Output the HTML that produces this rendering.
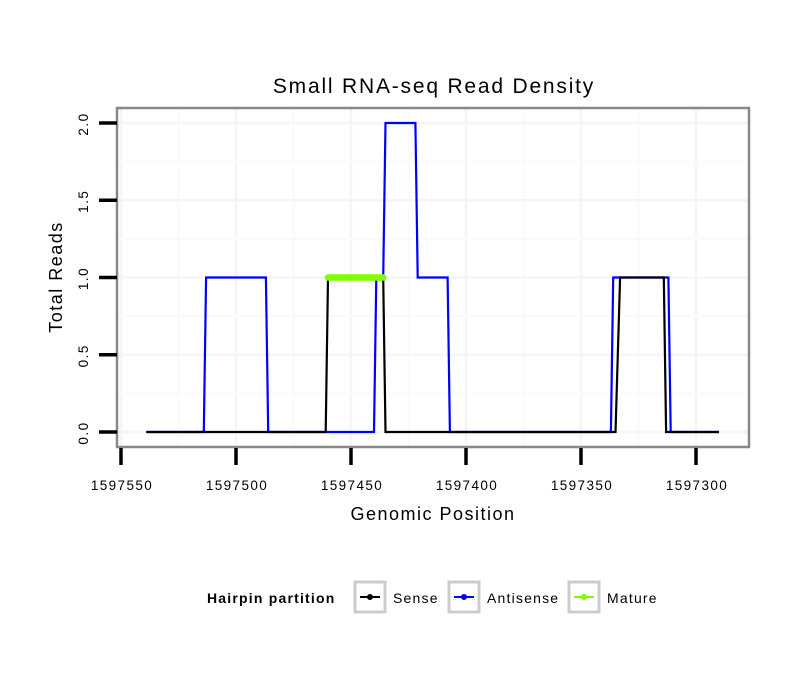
<!DOCTYPE html>
<html><head><meta charset="utf-8"><style>
body{margin:0;background:#fff;}
svg text{font-family:"Liberation Sans",sans-serif;}
</style></head><body>
<svg width="810" height="690" xmlns="http://www.w3.org/2000/svg">
<rect width="810" height="690" fill="#fff"/>
<text x="434" y="93" font-size="21" letter-spacing="1.8" text-anchor="middle">Small RNA-seq Read Density</text>
<g id="grid"></g>
<g id="series"></g>
<rect x="117" y="108" width="632" height="339" fill="none" stroke="#888" stroke-width="2.5"/>
<g id="axes"></g>
<text x="433" y="520" font-size="18" letter-spacing="1.5" text-anchor="middle">Genomic Position</text>
<text transform="translate(62,277) rotate(-90)" font-size="18" letter-spacing="1.5" text-anchor="middle">Total Reads</text>
<g>
<text x="207" y="603" font-size="14" font-weight="bold" letter-spacing="1.2">Hairpin partition</text>
<g>
<rect x="355" y="582" width="30" height="30" fill="#fff" stroke="#ccc" stroke-width="3"/>
<line x1="360" y1="597" x2="380" y2="597" stroke="#000" stroke-width="2"/><circle cx="370" cy="597" r="3" fill="#000"/>
<text x="393" y="603" font-size="14" letter-spacing="1.2">Sense</text></g>
<g>
<rect x="449" y="582" width="30" height="30" fill="#fff" stroke="#ccc" stroke-width="3"/>
<line x1="454" y1="597" x2="474" y2="597" stroke="#00f" stroke-width="2"/><circle cx="464" cy="597" r="3" fill="#00f"/>
<text x="487" y="603" font-size="14" letter-spacing="1.2">Antisense</text></g>
<g>
<rect x="569" y="582" width="30" height="30" fill="#fff" stroke="#ccc" stroke-width="3"/>
<line x1="574" y1="597" x2="594" y2="597" stroke="#7fff00" stroke-width="2"/><circle cx="584" cy="597" r="3" fill="#7fff00"/>
<text x="607" y="603" font-size="14" letter-spacing="1.2">Mature</text></g>
</g>
</svg>
<script>
const xTicks=[1597550,1597500,1597450,1597400,1597350,1597300];
const yTicks=[0,0.5,1,1.5,2];
const yTickLabels=["0.0","0.5","1.0","1.5","2.0"];
const senseX=[1597539,1597461,1597460,1597436,1597435,1597335,1597333,1597314,1597313,1597290];
const senseY=[0,0,1,1,0,0,1,1,0,0];
const antiX=[1597539,1597514,1597513,1597487,1597486,1597440,1597439,1597436,1597435,1597422,1597421,1597408,1597407,1597337,1597336,1597312,1597311,1597290];
const antiY=[0,0,1,1,0,0,1,1,2,2,1,1,0,0,1,1,0,0];
const matureX=[1597460,1597436];
const matureY=[1,1];
const NS="http://www.w3.org/2000/svg";
function sx(v){return 121+(1597550-v)*2.3;}
function sy(v){return 432-v*154.5;}
function mk(t,a,p){const e=document.createElementNS(NS,t);for(const k in a)e.setAttribute(k,a[k]);p.appendChild(e);return e;}
const grid=document.getElementById('grid'),axes=document.getElementById('axes'),ser=document.getElementById('series');
for(let i=0;i<xTicks.length;i++){
  for(const v of [xTicks[i],xTicks[i]-25]){
    const x=sx(v); if(x<117||x>749)continue;
    const l=mk('line',{x1:x,x2:x,y1:108,y2:447,stroke:v===xTicks[i]?'#f5f5f5':'#fafafa','stroke-width':v===xTicks[i]?2.5:2},grid);
    
    
  }
  const t=mk('line',{x1:sx(xTicks[i]),x2:sx(xTicks[i]),y1:448,y2:465,stroke:'#000','stroke-width':3.5},axes);
  
  
  const tx=mk('text',{x:sx(xTicks[i])+1,y:490,'font-size':13.5,'letter-spacing':1.4,'text-anchor':'middle'},axes);
  tx.textContent=xTicks[i];
  
  
}
for(let i=0;i<yTicks.length;i++){
  for(const v of [yTicks[i],yTicks[i]+0.25]){
    const y=sy(v); if(y<108||y>447)continue;
    const l=mk('line',{x1:117,x2:749,y1:y,y2:y,stroke:v===yTicks[i]?'#f5f5f5':'#fafafa','stroke-width':v===yTicks[i]?2.5:2},grid);
    
    
  }
  const t=mk('line',{x1:99,x2:117,y1:sy(yTicks[i]),y2:sy(yTicks[i]),stroke:'#000','stroke-width':3.5},axes);
  
  
  const tx=mk('text',{transform:`translate(88,${sy(yTicks[i])+1}) rotate(-90)`,'font-size':13.5,'letter-spacing':1.5,'text-anchor':'middle'},axes);
  tx.textContent=yTickLabels[i];
  
  
}
function pts(X,Y){return X.map((v,i)=>sx(v)+','+sy(Y[i])).join(' ');}
const a=mk('polyline',{points:pts(antiX,antiY),fill:'none',stroke:'#00f','stroke-width':2.2},ser);


const s=mk('polyline',{points:pts(senseX,senseY),fill:'none',stroke:'#000','stroke-width':2.2},ser);


const m=mk('polyline',{points:pts(matureX,matureY),fill:'none',stroke:'#7fff00','stroke-width':6.5,'stroke-linecap':'round'},ser);


</script>
</body></html>
